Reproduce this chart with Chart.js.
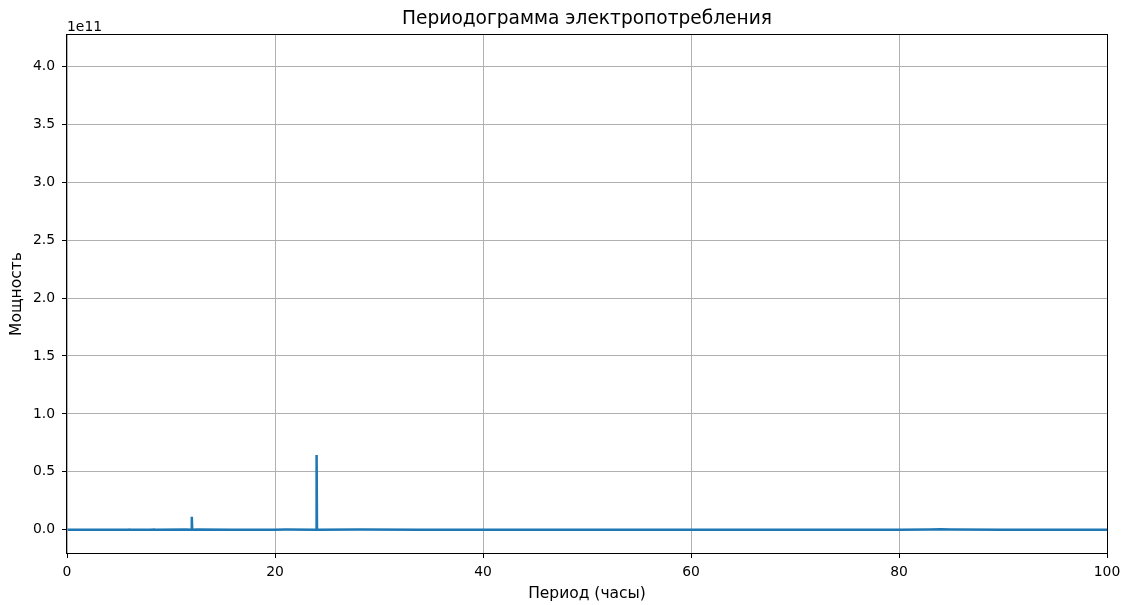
<!DOCTYPE html>
<html>
<head>
<meta charset="utf-8">
<script src="https://cdn.jsdelivr.net/npm/chart.js@4/dist/chart.umd.min.js"></script>
<style>
  html, body { margin: 0; padding: 0; background: #fff; }
  #wrap { width: 1129px; height: 605px; }
</style>
</head>
<body>
<div id="wrap"><canvas id="c" width="1129" height="605"></canvas></div>
<script>
// Periods (hours) and spectral power of the electricity consumption series
const periods = [0.05, 2.0, 4.0, 5.9, 6.0, 6.1, 8.0, 8.4, 8.5, 11.5, 11.96, 12.0, 12.04, 12.5,
                 16.0, 20.0, 21.0, 23.96, 24.0, 24.04, 28.0, 34.0, 40.0, 50.0, 60.0, 70.0,
                 80.0, 83.0, 84.0, 85.0, 90.0, 100.0];
const power = [1.0e8, 1.0e8, 1.0e8, 1.5e8, 3.0e8, 1.5e8, 1.0e8, 2.0e8, 1.0e8, 2.0e8, 1.0e8, 1.12e10, 1.0e8, 2.0e8,
               1.0e8, 1.0e8, 2.0e8, 1.0e8, 6.45e10, 1.0e8, 2.0e8, 1.0e8, 1.0e8, 1.0e8, 1.0e8, 1.0e8,
               1.0e8, 2.0e8, 4.0e8, 2.0e8, 1.0e8, 1.0e8];

// Axis ranges and tick labels
const xRange = [0, 100];
const xTicks = [0, 20, 40, 60, 80, 100];
const yRange = [-2.0e10, 4.27e11];
const yTicks = [0, 0.5e11, 1.0e11, 1.5e11, 2.0e11, 2.5e11, 3.0e11, 3.5e11, 4.0e11];
const yTickLabels = ['0.0', '0.5', '1.0', '1.5', '2.0', '2.5', '3.0', '3.5', '4.0'];

const titleText = 'Периодограмма электропотребления';
const xLabel = 'Период (часы)';
const yLabel = 'Мощность';
const offsetText = '1e11';

const FONT = "'DejaVu Sans', 'Liberation Sans', sans-serif";
Chart.defaults.font.family = FONT;
Chart.defaults.color = '#000';

const points = periods.map((p, i) => ({ x: p, y: power[i] }));

// Frame, title, axis labels and the exponent text
const decorations = {
  id: 'decorations',
  afterDraw(chart) {
    const { ctx, chartArea: a } = chart;
    ctx.save();
    ctx.strokeStyle = '#000';
    ctx.lineWidth = 1;
    const l = Math.round(a.left) - 0.5, r = Math.round(a.right) + 0.5;
    const t = Math.round(a.top) - 0.5, b = Math.round(a.bottom) + 0.5;
    ctx.strokeRect(l, t, r - l, b - t);
    const cx = (a.left + a.right) / 2;
    ctx.fillStyle = '#000';
    ctx.textAlign = 'center';
    ctx.textBaseline = 'middle';
    ctx.font = `18.6px ${FONT}`;
    ctx.fillText(titleText, cx, 19.5);
    ctx.font = `15.5px ${FONT}`;
    ctx.fillText(xLabel, cx, 594);
    ctx.save();
    ctx.translate(17, (a.top + a.bottom) / 2);
    ctx.rotate(-Math.PI / 2);
    ctx.fillText(yLabel, 0, 0);
    ctx.restore();
    ctx.font = `13.9px ${FONT}`;
    ctx.textAlign = 'left';
    ctx.textBaseline = 'alphabetic';
    ctx.fillText(offsetText, a.left, 31);
    ctx.restore();
  }
};

new Chart(document.getElementById('c'), {
  type: 'line',
  data: {
    datasets: [{
      data: points,
      borderColor: '#1f77b4',
      borderWidth: 2.5,
      pointRadius: 0,
      tension: 0,
      fill: false
    }]
  },
  options: {
    responsive: false,
    animation: false,
    devicePixelRatio: 1,
    layout: { padding: { top: 35, right: 22, left: 0, bottom: 0 } },
    plugins: { legend: { display: false }, tooltip: { enabled: false }, title: { display: false } },
    scales: {
      x: {
        type: 'linear',
        min: xRange[0],
        max: xRange[1],
        afterBuildTicks: s => { s.ticks = xTicks.map(v => ({ value: v })); },
        afterFit: s => { s.height = 52; },
        ticks: { font: { size: 13.9 }, color: '#000', padding: 6, maxRotation: 0, callback: v => String(v) },
        grid: { color: '#b0b0b0', lineWidth: 1, tickColor: '#000', tickLength: 5 },
        border: { display: false }
      },
      y: {
        type: 'linear',
        min: yRange[0],
        max: yRange[1],
        afterBuildTicks: s => { s.ticks = yTicks.map(v => ({ value: v })); },
        afterFit: s => { s.width = 67; },
        ticks: {
          font: { size: 13.9 }, color: '#000', padding: 7,
          callback: v => { const i = yTicks.indexOf(v); return i >= 0 ? yTickLabels[i] : ''; }
        },
        grid: { color: '#b0b0b0', lineWidth: 1, tickColor: '#000', tickLength: 5 },
        border: { display: false }
      }
    }
  },
  plugins: [decorations]
});
</script>
</body>
</html>
